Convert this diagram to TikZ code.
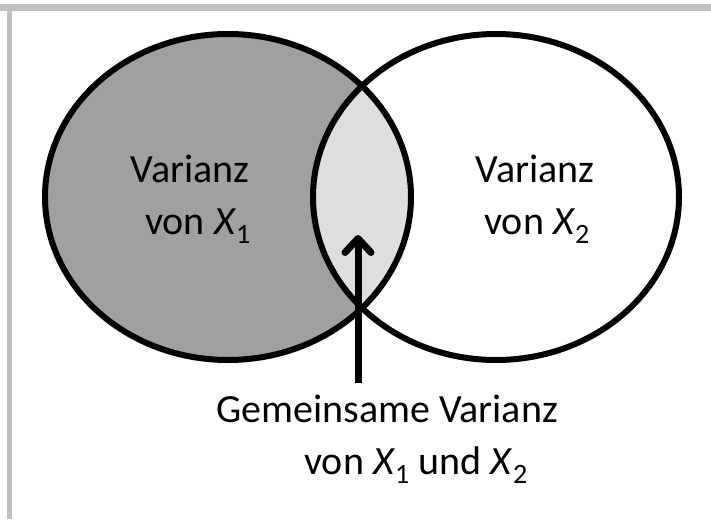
\documentclass[tikz,border=0pt]{standalone}
\usepackage{fontspec}
\setmainfont{Carlito}
\usetikzlibrary{arrows.meta}
\definecolor{frame}{HTML}{C0C0C0}
\definecolor{darkfill}{HTML}{A0A0A0}
\definecolor{lightfill}{HTML}{DEDEDE}
\tikzset{
  setline/.style={line width=6pt, draw=black},
  lbl/.style={anchor=base, inner sep=0pt, font=\fontsize{40}{48}\selectfont},
  pointer/.style={line width=7pt, -{Straight Barb[length=14pt, width=26pt, round]}}
}
\begin{document}
\begin{tikzpicture}[x=1pt,y=-1pt]
\useasboundingbox (0,0) rectangle (711,519);
% frame lines
\fill[frame] (0,4) rectangle (711,11);
\fill[frame] (7,4) rectangle (12,519);
% fills
\fill[darkfill] (228,197) ellipse [x radius=183, y radius=163];
\begin{scope}
  \clip (228,197) ellipse [x radius=183, y radius=163];
  \fill[lightfill] (496,197) ellipse [x radius=183, y radius=163];
\end{scope}
% outlines
\draw[setline] (228,197) ellipse [x radius=183, y radius=163];
\draw[setline] (496,197) ellipse [x radius=183, y radius=163];
% labels
\node[lbl] (l1a) at (190,182) {Varianz};
\node[lbl] (l1b) at (198,234) {von \textit{X}\textsubscript{1}};
\node[lbl] (l2a) at (535,182) {Varianz};
\node[lbl] (l2b) at (537,234) {von \textit{X}\textsubscript{2}};
\node[lbl] (ca) at (387,422) {Gemeinsame Varianz};
\node[lbl] (cb) at (416,474) {von \textit{X}\textsubscript{1} und \textit{X}\textsubscript{2}};
% arrow
\coordinate (arrowstart) at (358,383);
\coordinate (arrowtip) at (358,235);
\draw[pointer] (arrowstart) -- (arrowtip);
\end{tikzpicture}
\end{document}
